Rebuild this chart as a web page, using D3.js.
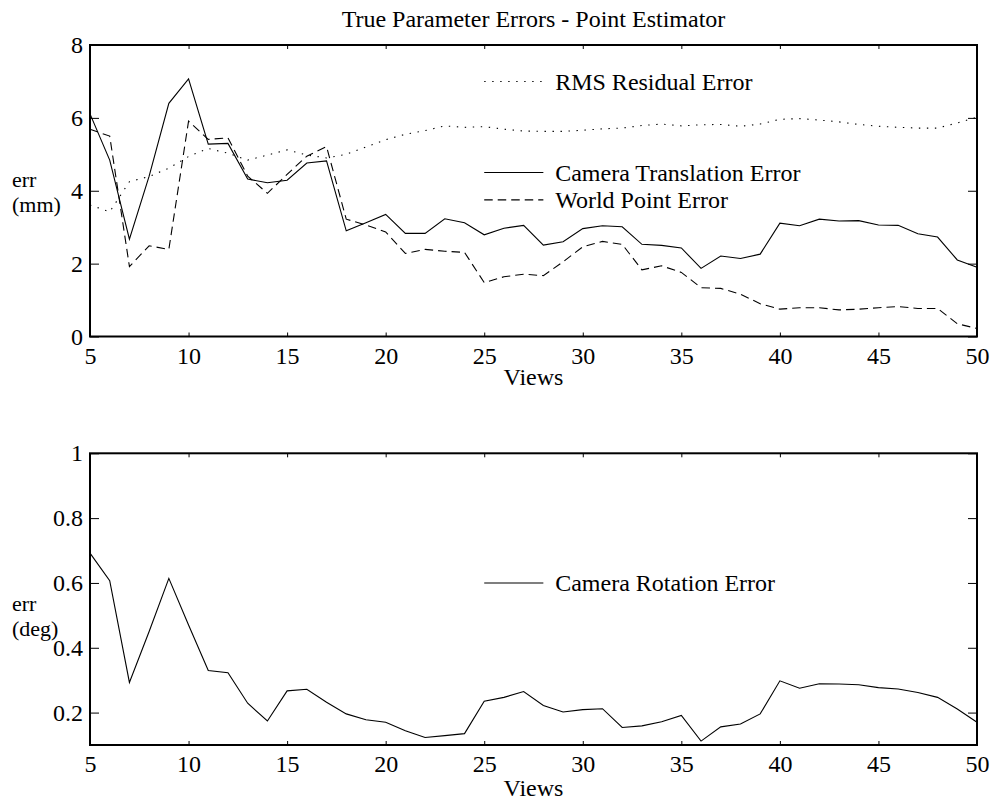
<!DOCTYPE html>
<html>
<head>
<meta charset="utf-8">
<script src="https://cdn.jsdelivr.net/npm/d3@7"></script>
<style>
  html, body { margin: 0; padding: 0; background: #fff; }
  svg { display: block; }
  text { font-family: "Liberation Serif", "Times New Roman", serif; fill: #000; }
</style>
</head>
<body>
<svg id="chart" width="993" height="801"></svg>
<script>
// Number of views used by the estimator
const views = [5, 6, 7, 8, 9, 10, 11, 12, 13, 14, 15, 16, 17, 18, 19, 20, 21, 22, 23, 24, 25, 26, 27,
               28, 29, 30, 31, 32, 33, 34, 35, 36, 37, 38, 39, 40, 41, 42, 43, 44, 45, 46, 47, 48, 49, 50];

// Upper panel series (mm)
const rmsResidual = [3.61, 3.42, 4.25, 4.39, 4.62, 4.94, 5.16, 5.03, 4.84, 4.98, 5.12, 4.98, 4.90, 5.00,
                     5.20, 5.40, 5.55, 5.65, 5.78, 5.74, 5.76, 5.69, 5.64, 5.63, 5.63, 5.66, 5.70, 5.72,
                     5.79, 5.83, 5.78, 5.81, 5.82, 5.77, 5.83, 5.96, 5.98, 5.94, 5.89, 5.82, 5.77, 5.74,
                     5.72, 5.72, 5.86, 6.02];
const cameraTranslation = [6.11, 4.84, 2.67, 4.40, 6.40, 7.07, 5.28, 5.30, 4.32, 4.22, 4.29, 4.76, 4.82, 2.90,
                           3.12, 3.35, 2.83, 2.83, 3.23, 3.12, 2.79, 2.97, 3.05, 2.51, 2.60, 2.96, 3.04, 3.01,
                           2.53, 2.50, 2.43, 1.87, 2.21, 2.14, 2.26, 3.11, 3.04, 3.22, 3.17, 3.18, 3.06, 3.05,
                           2.82, 2.73, 2.10, 1.90];
const worldPoint = [5.69, 5.50, 1.92, 2.49, 2.39, 5.91, 5.41, 5.45, 4.40, 3.93, 4.45, 4.95, 5.21, 3.22,
                    3.06, 2.87, 2.28, 2.39, 2.34, 2.31, 1.48, 1.64, 1.71, 1.67, 2.05, 2.46, 2.61, 2.53,
                    1.83, 1.94, 1.76, 1.34, 1.32, 1.16, 0.90, 0.75, 0.79, 0.79, 0.73, 0.75, 0.79, 0.82,
                    0.77, 0.77, 0.35, 0.22];

// Lower panel series (deg)
const cameraRotation = [0.692, 0.607, 0.293, 0.450, 0.614, 0.470, 0.330, 0.323, 0.229, 0.174, 0.267, 0.272,
                        0.232, 0.196, 0.178, 0.170, 0.144, 0.123, 0.129, 0.135, 0.235, 0.247, 0.265, 0.222,
                        0.202, 0.209, 0.212, 0.154, 0.159, 0.172, 0.191, 0.112, 0.156, 0.165, 0.196, 0.298,
                        0.275, 0.289, 0.288, 0.286, 0.277, 0.273, 0.262, 0.247, 0.211, 0.170];

// Tick labels
const xTicks = [5, 10, 15, 20, 25, 30, 35, 40, 45, 50];
const yTicksTop = [0, 2, 4, 6, 8];
const yTicksBottom = [0.2, 0.4, 0.6, 0.8, 1];

const svg = d3.select("#chart");
const FONT = 24;
const LABEL_FONT = 22;

const left = 90, right = 977;

const x = d3.scaleLinear().domain([5, 50]).range([left, right]);

const panels = [
  {
    top: 45, bottom: 336.5, domain: [0, 8], yTicks: yTicksTop,
    unit: "(mm)", labelY: [187, 212], viewsY: 385,
    series: [
      { name: "RMS Residual Error", values: rmsResidual, dash: "1.4,6.6", legendAt: 7 },
      { name: "Camera Translation Error", values: cameraTranslation, dash: null, legendAt: 4.5 },
      { name: "World Point Error", values: worldPoint, dash: "8.5,5", legendAt: 3.75 }
    ],
    fmt: d3.format("d")
  },
  {
    top: 453.3, bottom: 745, domain: [0.1, 1], yTicks: yTicksBottom,
    unit: "(deg)", labelY: [611, 636], viewsY: 796,
    series: [
      { name: "Camera Rotation Error", values: cameraRotation, dash: null, legendAt: 0.6 }
    ],
    fmt: d => (d === 1 ? "1" : d3.format(".1f")(d))
  }
];

// Title
svg.append("text")
  .attr("x", (left + right) / 2)
  .attr("y", 27)
  .attr("text-anchor", "middle")
  .attr("font-size", FONT)
  .text("True Parameter Errors - Point Estimator");

panels.forEach(p => {
  const y = d3.scaleLinear().domain(p.domain).range([p.bottom, p.top]);
  const g = svg.append("g");

  // Axes: ticks drawn inward on all four sides, labels on left and bottom only
  const axL = g.append("g").attr("transform", `translate(${left},0)`)
    .call(d3.axisLeft(y).tickValues(p.yTicks).tickSize(-9).tickPadding(7).tickFormat(p.fmt));
  const axR = g.append("g").attr("transform", `translate(${right},0)`)
    .call(d3.axisRight(y).tickValues(p.yTicks).tickSize(-9).tickFormat(""));
  const axB = g.append("g").attr("transform", `translate(0,${p.bottom})`)
    .call(d3.axisBottom(x).tickValues(xTicks).tickSize(-4).tickPadding(10).tickFormat(d3.format("d")));
  const axT = g.append("g").attr("transform", `translate(0,${p.top})`)
    .call(d3.axisTop(x).tickValues(xTicks).tickSize(-4).tickFormat(""));

  [axL, axR, axB, axT].forEach(a => {
    a.attr("font-family", null);
    a.select(".domain").remove();
    a.selectAll("line").attr("stroke", "#000").attr("stroke-width", 1);
    a.selectAll("text")
      .attr("font-size", FONT)
      .attr("fill", "#000");
  });

  // Series lines
  const line = d3.line()
    .x((d, i) => x(views[i]))
    .y(d => y(d));

  p.series.forEach(s => {
    g.append("path")
      .datum(s.values)
      .attr("fill", "none")
      .attr("stroke", "#000")
      .attr("stroke-width", 1.1)
      .attr("stroke-dasharray", s.dash)
      .attr("d", line);

    // Legend entry: sample line and label placed in data coordinates
    g.append("line")
      .attr("x1", x(25)).attr("x2", x(28))
      .attr("y1", y(s.legendAt)).attr("y2", y(s.legendAt))
      .attr("stroke", "#000")
      .attr("stroke-width", 1.1)
      .attr("stroke-dasharray", s.dash);
    g.append("text")
      .attr("x", x(28.6))
      .attr("y", y(s.legendAt))
      .attr("dy", "0.35em")
      .attr("font-size", FONT)
      .text(s.name);
  });

  // Plot frame
  g.append("rect")
    .attr("x", left).attr("y", p.top)
    .attr("width", right - left).attr("height", p.bottom - p.top)
    .attr("fill", "none")
    .attr("stroke", "#000")
    .attr("stroke-width", 2);

  // Two-line y label
  svg.append("text").attr("x", 12).attr("y", p.labelY[0]).attr("font-size", LABEL_FONT).text("err");
  svg.append("text").attr("x", 12).attr("y", p.labelY[1]).attr("font-size", LABEL_FONT).text(p.unit);

  svg.append("text")
    .attr("x", (left + right) / 2)
    .attr("y", p.viewsY)
    .attr("text-anchor", "middle")
    .attr("font-size", FONT)
    .text("Views");
});
</script>
</body>
</html>
